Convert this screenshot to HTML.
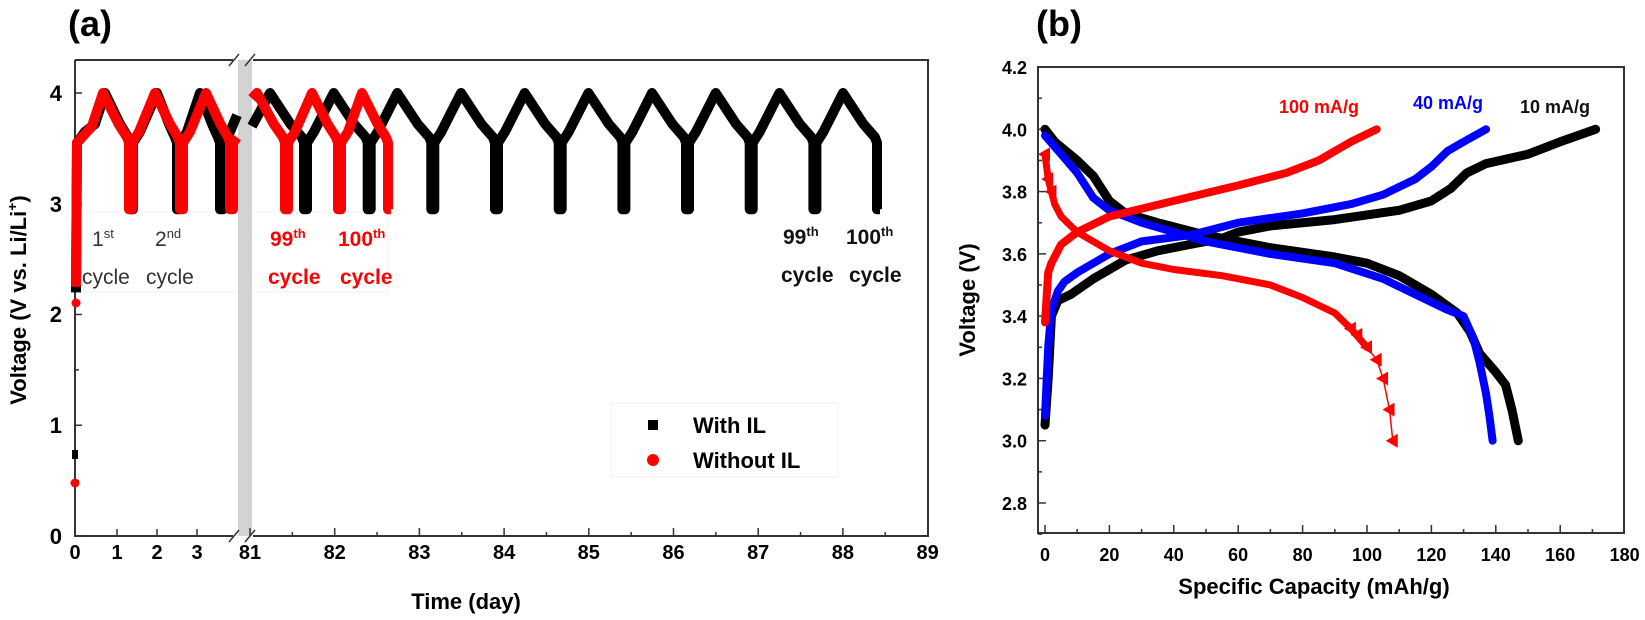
<!DOCTYPE html>
<html><head><meta charset="utf-8"><style>
html,body{margin:0;padding:0;background:#fff;}
svg{display:block;font-family:"Liberation Sans",sans-serif;}
</style></head><body>
<svg id="s" width="1645" height="620" viewBox="0 0 1645 620" xmlns="http://www.w3.org/2000/svg">
<rect width="1645" height="620" fill="#fff"/>
<text x="68" y="36" font-size="36" font-weight="bold">(a)</text>
<rect x="78" y="212" width="310" height="80" fill="#fff" stroke="#f3f3f3"/>
<rect x="238" y="60" width="14" height="476" fill="#d3d3d3"/>
<g stroke="#333" stroke-width="2" fill="none">
<path d="M75,60 V536 H233 M253,536 H928 V60 H253 M233,60 H75"/>
<path d="M229,66 L239,54 M245,66 L255,54 M229,542 L239,530 M245,542 L255,530" stroke-width="1.5"/>
</g>
<g id="atk" stroke="#333" stroke-width="1.5"></g>
<g font-size="22" font-weight="bold" text-anchor="end">
<text x="62" y="544">0</text><text x="62" y="433">1</text><text x="62" y="322">2</text><text x="62" y="212">3</text><text x="62" y="101">4</text>
</g>
<g id="axl" font-size="20" font-weight="bold" text-anchor="middle"></g>
<text x="466" y="609" font-size="22" font-weight="bold" text-anchor="middle">Time (day)</text>
<text transform="translate(26,300) rotate(-90)" font-size="22" font-weight="bold" text-anchor="middle">Voltage (V vs. Li/Li<tspan font-size="14" dy="-9">+</tspan><tspan dy="9">)</tspan></text>
<g fill="none" stroke-width="10" stroke-linejoin="round">
<path id="blackA" stroke="#000"/>
<path id="redA" stroke="#f00"/>
</g>
<rect x="72" y="450" width="6" height="9" fill="#000"/>
<circle cx="75" cy="483" r="4.5" fill="#f00"/>
<circle cx="76" cy="303" r="4.5" fill="#f00"/>
<g font-size="21" fill="#333">
<text x="92" y="246">1<tspan font-size="13" dy="-8">st</tspan></text>
<text x="82" y="284">cycle</text>
<text x="155" y="246">2<tspan font-size="13" dy="-8">nd</tspan></text>
<text x="146" y="284">cycle</text>
</g>
<g font-size="21" fill="#f00" font-weight="bold">
<text x="270" y="246">99<tspan font-size="13" dy="-8">th</tspan></text>
<text x="268" y="284">cycle</text>
<text x="338" y="246">100<tspan font-size="13" dy="-8">th</tspan></text>
<text x="340" y="284">cycle</text>
</g>
<g font-size="21" fill="#111" font-weight="bold">
<text x="783" y="244">99<tspan font-size="13" dy="-8">th</tspan></text>
<text x="781" y="282">cycle</text>
<text x="846" y="244">100<tspan font-size="13" dy="-8">th</tspan></text>
<text x="849" y="282">cycle</text>
</g>
<rect x="611" y="403" width="227" height="74" fill="#fff" stroke="#f0f0f0"/>
<rect x="648" y="420" width="10" height="10" fill="#000"/>
<circle cx="653" cy="460" r="6" fill="#f00"/>
<text x="693" y="433" font-size="22" font-weight="bold">With IL</text>
<text x="693" y="468" font-size="22" font-weight="bold">Without IL</text>

<text x="1036" y="36" font-size="36" font-weight="bold">(b)</text>
<rect x="1038" y="67" width="586" height="466" fill="none" stroke="#333" stroke-width="2"/>
<g id="btk" stroke="#333" stroke-width="1.5"></g>
<g id="bl" font-size="18" font-weight="bold"></g>
<text x="1314" y="594" font-size="22" font-weight="bold" text-anchor="middle">Specific Capacity (mAh/g)</text>
<text transform="translate(975,300) rotate(-90)" font-size="22" font-weight="bold" text-anchor="middle">Voltage (V)</text>
<g id="bc" fill="none" stroke-linejoin="round" stroke-linecap="round"></g>
<text x="1279" y="113" font-size="18" font-weight="bold" fill="#f00">100 mA/g</text>
<text x="1413" y="109" font-size="18" font-weight="bold" fill="#00f">40 mA/g</text>
<text x="1520" y="113" font-size="18" font-weight="bold" fill="#111">10 mA/g</text>
</svg>
<script>
(function(){
var NS="http://www.w3.org/2000/svg";
function el(p,t,a,txt){var e=document.createElementNS(NS,t);for(var k in a)e.setAttribute(k,a[k]);if(txt!=null)e.textContent=txt;p.appendChild(e);return e;}
var ya=function(v){return 536-110.75*v;};
var atk=document.getElementById('atk'),axl=document.getElementById('axl');
for(var v=0;v<=4;v++){el(atk,'line',{x1:75,x2:82,y1:ya(v),y2:ya(v)});}
for(var v=0.5;v<4.3;v+=1){el(atk,'line',{x1:75,x2:79,y1:ya(v),y2:ya(v)});}
var fx=[75,117,157,197];
fx.forEach(function(x,i){if(i>0)el(atk,'line',{x1:x,x2:x,y1:536,y2:529});el(axl,'text',{x:x,y:559},String(i));});
for(var d=81;d<=89;d++){var x=250+(d-81)*84.7;if(d<89)el(atk,'line',{x1:x,x2:x,y1:536,y2:528});el(axl,'text',{x:x,y:559},String(d));
 if(d<89){var xm=x+42.35;el(atk,'line',{x1:xm,x2:xm,y1:536,y2:532});}}
function P(x,v){return x.toFixed(1)+','+ya(v).toFixed(1);}
function cyc(pts,D,Pk){pts.push(P(D,2.95),P(D+3,2.95),P(D+3,3.55),P(D+10,3.65),P(Pk,4.0));}
function dis(pts,Pk,D){var w=D-Pk;pts.push(P(Pk+w*0.6,3.72),P(D-2,3.6),P(D,3.55));}
var b=[P(76,2.2),P(77,3.55),P(85,3.65),P(95,3.72),P(105,4.0)];
dis(b,105,130);cyc(b,130,157);dis(b,157,177);cyc(b,177,200);dis(b,200,220);
b.push(P(220,2.95),P(223,2.95),P(223,3.55),P(230,3.65),P(237,3.8));
var bp=["M"+b.join(" L")];
var a=[P(252,3.7),P(258,3.8),P(270,4.0)];
var pk=[];for(var i=0;i<10;i++)pk.push(270+i*63.67);
for(var i=0;i<10;i++){var D=pk[i]+34;dis(a,pk[i],D);if(i<9)cyc(a,D,pk[i+1]);else a.push(P(D,2.95),P(D+3,2.95));}
bp.push("M"+a.join(" L"));
document.getElementById('blackA').setAttribute('d',bp.join(' '));
var r=[P(76,2.25),P(77,3.55),P(82,3.6),P(92,3.7),P(103,4.0)];
dis(r,103,129);cyc(r,129,155);dis(r,155,180);cyc(r,180,206);dis(r,206,230);
r.push(P(230,2.95),P(233,2.95),P(233,3.55),P(237,3.6));
var rp=["M"+r.join(" L")];
var r2=[P(252,3.95),P(257,4.0)];
dis(r2,257,285);cyc(r2,285,312);dis(r2,312,338);cyc(r2,338,362);dis(r2,362,388);r2.push(P(388,2.95),P(391,2.95));
rp.push("M"+r2.join(" L"));
document.getElementById('redA').setAttribute('d',rp.join(' '));
var xb=function(c){return 1045+c*3.22;},yb=function(v){return 503-(v-2.8)*311.4;};
var btk=document.getElementById('btk'),bl=document.getElementById('bl');
for(var c=0;c<=180;c+=10){var x=xb(c);var mj=(c%20==0);if(c<180)el(btk,'line',{x1:x,x2:x,y1:533,y2:mj?525:529});
 if(mj)el(bl,'text',{x:x,y:561,'text-anchor':'middle'},String(c));}
for(var k=0;k<=14;k++){var v=2.8+k*0.1;if(v>4.21)break;var y=yb(v);var mj=(k%2==0);el(btk,'line',{x1:1038,x2:mj?1046:1042,y1:y,y2:y});
 if(mj)el(bl,'text',{x:1027,y:y+7,'text-anchor':'end'},v.toFixed(1));}
el(btk,'line',{x1:1038,x2:1042,y1:yb(2.7),y2:yb(2.7)});
function pl(d,col,w){var s=d.map(function(p){return xb(p[0]).toFixed(1)+','+yb(p[1]).toFixed(1);}).join(' ');
 return el(document.getElementById('bc'),'polyline',{points:s,stroke:col,'stroke-width':w});}
var bch=[[0,3.05],[1,3.2],[2,3.4],[4,3.45],[8,3.47],[15,3.52],[25,3.58],[35,3.61],[45,3.63],[55,3.65],[60,3.67],[70,3.69],[90,3.71],[110,3.74],[120,3.77],[126,3.81],[131,3.86],[137,3.89],[150,3.92],[160,3.96],[171,4.0]];
var bdc=[[0,4.0],[3,3.96],[10,3.9],[15,3.85],[20,3.77],[25,3.73],[35,3.7],[50,3.66],[70,3.62],[90,3.59],[100,3.57],[110,3.53],[120,3.47],[128,3.41],[132,3.35],[135,3.28],[140,3.22],[143,3.18],[145,3.1],[147,3.0]];
var lch=[[0,3.08],[1,3.3],[2,3.42],[4,3.48],[6,3.51],[10,3.54],[20,3.6],[30,3.64],[45,3.66],[60,3.7],[80,3.73],[95,3.76],[105,3.79],[115,3.84],[120,3.88],[125,3.93],[130,3.96],[137,4.0]];
var ldc=[[0,3.98],[5,3.92],[10,3.86],[15,3.78],[20,3.74],[30,3.7],[50,3.64],[70,3.6],[90,3.57],[105,3.52],[115,3.47],[125,3.42],[130,3.4],[133,3.33],[135,3.25],[137,3.15],[138,3.08],[139,3.0]];
var rch=[[0,3.38],[1,3.54],[2,3.57],[5,3.63],[10,3.67],[20,3.72],[40,3.77],[60,3.82],[75,3.86],[85,3.9],[95,3.96],[103,4.0]];
var rdc=[[0,3.92],[1,3.84],[2,3.8],[3,3.76],[5,3.72],[10,3.67],[20,3.61],[30,3.57],[40,3.55],[55,3.53],[70,3.5],[80,3.46],[90,3.41],[95,3.36],[100,3.3],[103,3.26],[105,3.2],[107,3.1],[108,3.0]];
pl(bch,'#000',9);pl(bdc,'#000',9);
pl(lch,'#00f',8);pl(ldc,'#00f',8);
pl(rch,'#f00',8);
pl(rdc,'#f00',1.5);
pl(rdc.slice(0,15),'#f00',7);
[[0,3.92],[1,3.84],[2,3.8],[103,3.26],[105,3.2],[107,3.1],[108,3.0],[100,3.3],[97,3.34],[95,3.36]].forEach(function(p){var x=xb(p[0]),y=yb(p[1]);
 el(document.getElementById('bc'),'polygon',{points:(x-7)+','+y+' '+(x+5)+','+(y-7)+' '+(x+5)+','+(y+7),fill:'#f00'});});
})();
</script>
</body></html>
